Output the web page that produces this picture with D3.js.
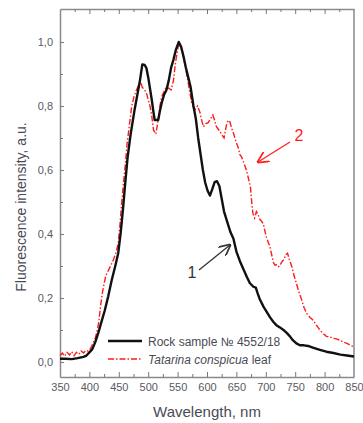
<!DOCTYPE html>
<html>
<head>
<meta charset="utf-8">
<script src="https://cdn.jsdelivr.net/npm/d3@7"></script>
<style>
  body { margin: 0; background: #fff; }
  svg { display: block; font-family: "Liberation Sans", Arial, sans-serif; }
</style>
</head>
<body>
<div id="chart"></div>
<script>
// rock sample No 4552/18 (curve 1)
var rockNm = [350,360,370,380,390,395,400,405,410,415,420,426,432,438,444,449,453,457,461,465,470,477,482,486,490,494,497,500,503,506,509,511,517,520,523,527,531,535,539,543,547,552,556,560,564,568,572,577,581,585,589,593,597,601,605,609,613,617,621,625,629,634,640,645,650,656,662,668,673,679,683,686,690,696,701,707,713,718,724,730,736,741,746,752,758,765,772,780,792,803,815,827,838,850];
var rockVal = [0.010,0.010,0.009,0.012,0.016,0.020,0.030,0.040,0.062,0.090,0.122,0.160,0.205,0.256,0.300,0.340,0.400,0.475,0.560,0.640,0.710,0.790,0.840,0.880,0.930,0.928,0.918,0.890,0.855,0.820,0.780,0.756,0.756,0.785,0.810,0.835,0.850,0.880,0.920,0.945,0.975,1.000,0.985,0.955,0.920,0.890,0.860,0.800,0.760,0.700,0.650,0.600,0.560,0.535,0.520,0.540,0.562,0.565,0.550,0.510,0.470,0.440,0.405,0.385,0.345,0.315,0.290,0.265,0.246,0.235,0.232,0.215,0.195,0.173,0.158,0.140,0.125,0.115,0.108,0.100,0.090,0.080,0.068,0.058,0.052,0.052,0.050,0.045,0.038,0.032,0.028,0.023,0.020,0.017];

// Tatarina conspicua leaf (curve 2)
var leafNm = [350,354,358,362,366,370,374,378,382,386,390,394,398,402,406,410,413,416,419,422,425,428,432,436,441,445,449,452,455,458,461,464,468,472,476,480,484,487,490,494,497,500,503,506,509,513,517,520,523,527,531,535,539,543,546,549,552,555,558,562,566,570,574,577,580,584,588,591,594,598,602,606,610,613,616,619,622,626,629,633,636,639,642,645,649,653,656,659,663,667,671,674,676,678,681,684,687,690,693,696,699,701,704,707,710,713,716,719,722,725,728,731,734,737,740,744,748,752,756,761,765,770,775,781,786,792,797,803,809,815,820,826,832,838,844,850];
var leafVal = [0.020,0.028,0.018,0.030,0.022,0.032,0.020,0.030,0.024,0.034,0.028,0.036,0.034,0.042,0.058,0.075,0.095,0.125,0.175,0.215,0.245,0.270,0.285,0.300,0.320,0.340,0.370,0.430,0.500,0.560,0.615,0.680,0.740,0.800,0.830,0.850,0.865,0.875,0.858,0.850,0.840,0.820,0.800,0.770,0.725,0.712,0.756,0.800,0.830,0.845,0.860,0.855,0.850,0.880,0.930,0.965,0.995,0.985,0.970,0.935,0.895,0.850,0.810,0.795,0.790,0.800,0.780,0.755,0.735,0.745,0.748,0.760,0.772,0.755,0.735,0.728,0.720,0.708,0.700,0.740,0.755,0.750,0.730,0.715,0.690,0.670,0.648,0.640,0.620,0.600,0.570,0.545,0.500,0.465,0.450,0.470,0.460,0.445,0.440,0.430,0.405,0.390,0.375,0.360,0.335,0.310,0.302,0.305,0.298,0.305,0.315,0.320,0.335,0.340,0.320,0.300,0.270,0.246,0.220,0.194,0.170,0.150,0.140,0.130,0.115,0.100,0.090,0.080,0.078,0.074,0.072,0.068,0.062,0.058,0.052,0.047];

var xTicks = [350,400,450,500,550,600,650,700,750,800,850];
var yTicks = [0.0,0.2,0.4,0.6,0.8,1.0];

var w = 363, h = 423;
var padL = 60, padR = 354, padT = 9, padB = 377;

var svg = d3.select("#chart").append("svg").attr("width", w).attr("height", h);

var x = d3.scaleLinear().domain([350, 850]).range([padL, padR]);
var y = d3.scaleLinear().domain([-0.047, 1.103]).range([padB, padT]);
var fmt = function (d) { return d3.format(".1f")(d).replace(".", ","); };

var axisColor = "#8a8a8a";

// minor ticks (inward)
var minorX = d3.range(375, 850, 50);
var minorY = d3.range(0.1, 1.1, 0.2);

// bottom axis
var gx = svg.append("g").attr("transform", "translate(0," + padB + ")")
    .call(d3.axisBottom(x).tickValues(xTicks).tickSizeInner(-5).tickSizeOuter(0).tickPadding(6).tickFormat(d3.format("d")));
gx.selectAll("g.tick").filter(function (d) { return d === 350 || d === 850; }).select("line").remove();
svg.append("g").attr("transform", "translate(0," + padB + ")")
    .call(d3.axisBottom(x).tickValues(minorX).tickSizeInner(-3).tickSizeOuter(0).tickFormat(""))
    .select(".domain").remove();

// top axis
svg.append("g").attr("transform", "translate(0," + padT + ")")
    .call(d3.axisTop(x).tickValues(xTicks.slice(1, -1)).tickSizeInner(-5).tickSizeOuter(0).tickFormat(""));
svg.append("g").attr("transform", "translate(0," + padT + ")")
    .call(d3.axisTop(x).tickValues(minorX).tickSizeInner(-3).tickSizeOuter(0).tickFormat(""))
    .select(".domain").remove();

// left axis
svg.append("g").attr("transform", "translate(" + padL + ",0)")
    .call(d3.axisLeft(y).tickValues(yTicks).tickSizeInner(-4).tickSizeOuter(0).tickPadding(7).tickFormat(fmt));
svg.append("g").attr("transform", "translate(" + padL + ",0)")
    .call(d3.axisLeft(y).tickValues(minorY).tickSizeInner(-3).tickSizeOuter(0).tickFormat(""))
    .select(".domain").remove();

// right frame
svg.append("line").attr("x1", padR).attr("x2", padR).attr("y1", padT).attr("y2", padB)
    .attr("stroke", axisColor).attr("stroke-width", 1.5);

svg.selectAll(".domain").attr("stroke", axisColor).attr("stroke-width", 1.5);
svg.selectAll(".tick line").attr("stroke", "#777").attr("stroke-width", 1);
svg.selectAll(".tick text").attr("fill", "#5a5a62").attr("font-size", 11);

// curves
var line = d3.line().x(function (d) { return x(d[0]); }).y(function (d) { return y(d[1]); });
var leaf = d3.zip(leafNm, leafVal);
var rock = d3.zip(rockNm, rockVal);

svg.append("path").attr("d", line(leaf)).attr("fill", "none")
    .attr("stroke", "#ff1a1a").attr("stroke-width", 1.4).attr("stroke-dasharray", "6,2,1.5,2");
svg.append("path").attr("d", line(rock)).attr("fill", "none")
    .attr("stroke", "#111").attr("stroke-width", 2.4).attr("stroke-linejoin", "round");

// legend
var lg = svg.append("g");
lg.append("line").attr("x1", 108).attr("x2", 142).attr("y1", 341).attr("y2", 341)
    .attr("stroke", "#111").attr("stroke-width", 2.4);
lg.append("text").attr("x", 148).attr("y", 345.5).attr("font-size", 12).attr("fill", "#4a4a55")
    .text("Rock sample № 4552/18");
lg.append("line").attr("x1", 108).attr("x2", 142).attr("y1", 359).attr("y2", 359)
    .attr("stroke", "#ff1a1a").attr("stroke-width", 1.4).attr("stroke-dasharray", "6,2,1.5,2");
var t2 = lg.append("text").attr("x", 148).attr("y", 363.5).attr("font-size", 12).attr("fill", "#4a4a55");
t2.append("tspan").attr("font-style", "italic").text("Tatarina conspicua");
t2.append("tspan").text(" leaf");

// arrows and curve numbers
svg.append("defs").selectAll("marker").data([["a1", "#333"], ["a2", "#ff2020"]]).enter()
    .append("marker").attr("id", function (d) { return d[0]; })
    .attr("viewBox", "0 0 10 10").attr("refX", 9).attr("refY", 5)
    .attr("markerWidth", 9).attr("markerHeight", 9).attr("orient", "auto")
    .append("path").attr("d", "M0,0 L10,5 L0,10").attr("fill", "none")
    .attr("stroke", function (d) { return d[1]; }).attr("stroke-width", 1.5);

svg.append("line").attr("x1", 199).attr("y1", 270).attr("x2", 230).attr("y2", 245)
    .attr("stroke", "#333").attr("stroke-width", 1.3).attr("marker-end", "url(#a1)");
svg.append("text").attr("x", 192).attr("y", 278).attr("text-anchor", "middle")
    .attr("font-size", 16).attr("fill", "#334").text("1");

svg.append("line").attr("x1", 290).attr("y1", 142).attr("x2", 258).attr("y2", 162)
    .attr("stroke", "#ff2020").attr("stroke-width", 1.3).attr("marker-end", "url(#a2)");
svg.append("text").attr("x", 299).attr("y", 141).attr("text-anchor", "middle")
    .attr("font-size", 16).attr("fill", "#ff2020").text("2");

// axis titles
svg.append("text").attr("transform", "translate(26,207) rotate(-90)")
    .attr("text-anchor", "middle").attr("font-size", 14).attr("fill", "#4a4a55")
    .text("Fluorescence intensity, a.u.");
svg.append("text").attr("x", 207).attr("y", 417).attr("text-anchor", "middle")
    .attr("font-size", 15).attr("fill", "#4a4a55").text("Wavelength, nm");
</script>
</body>
</html>
